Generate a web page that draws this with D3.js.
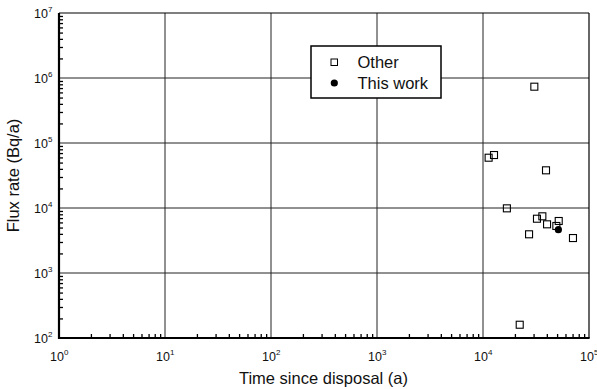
<!DOCTYPE html>
<html>
<head>
<meta charset="utf-8">
<script src="https://cdn.jsdelivr.net/npm/d3@7"></script>
<style>
  html, body { margin: 0; padding: 0; background: #fff; }
  svg { display: block; font-family: "Liberation Sans", Arial, sans-serif; }
</style>
</head>
<body>
<svg id="chart" width="597" height="389"></svg>
<script>
// Time since disposal (a) and flux rate (Bq/a)
const otherTime = [30500, 12700, 11300, 39300, 16800, 36300, 32300, 40200, 51800, 49200, 27200, 70600, 22200];
const otherFlux = [735000, 65300, 59400, 38000, 9880, 7450, 6840, 5610, 6310, 5290, 3940, 3450, 160];
const thisTime = [51400];
const thisFlux = [4640];

const xTickExps = [0, 1, 2, 3, 4, 5];
const yTickExps = [2, 3, 4, 5, 6, 7];
const legendLabels = ["Other", "This work"];

const svg = d3.select("#chart");
const m = { left: 59, right: 589, top: 13, bottom: 338 };

const x = d3.scaleLog().domain([1, 1e5]).range([m.left, m.right]);
const y = d3.scaleLog().domain([1e2, 1e7]).range([m.bottom, m.top]);

// grid lines at each decade
const g = svg.append("g");
g.selectAll(".vgrid").data(xTickExps.slice(1, -1)).enter().append("line")
  .attr("x1", d => x(Math.pow(10, d))).attr("x2", d => x(Math.pow(10, d)))
  .attr("y1", m.top).attr("y2", m.bottom)
  .attr("stroke", "#222").attr("stroke-width", 1);
g.selectAll(".hgrid").data(yTickExps.slice(1, -1)).enter().append("line")
  .attr("x1", m.left).attr("x2", m.right)
  .attr("y1", d => y(Math.pow(10, d))).attr("y2", d => y(Math.pow(10, d)))
  .attr("stroke", "#222").attr("stroke-width", 1);

// minor ticks (inward) on the bottom and left axes
const minorX = [];
for (let e = 0; e < 5; e++) for (let k = 2; k <= 9; k++) minorX.push(k * Math.pow(10, e));
const minorY = [];
for (let e = 2; e < 7; e++) for (let k = 2; k <= 9; k++) minorY.push(k * Math.pow(10, e));

const xAxis = d3.axisBottom(x).tickValues(minorX).tickSize(-4).tickFormat("");
const yAxis = d3.axisLeft(y).tickValues(minorY).tickSize(-4).tickFormat("");
svg.append("g").attr("transform", `translate(0,${m.bottom})`).call(xAxis)
  .call(s => s.select(".domain").remove())
  .selectAll("line").attr("stroke", "#000").attr("stroke-width", 1.3);
svg.append("g").attr("transform", `translate(${m.left},0)`).call(yAxis)
  .call(s => s.select(".domain").remove())
  .selectAll("line").attr("stroke", "#000").attr("stroke-width", 1.3);

// frame: thin top/right, heavy bottom/left
svg.append("line").attr("x1", m.left).attr("x2", m.right).attr("y1", m.top).attr("y2", m.top)
  .attr("stroke", "#000").attr("stroke-width", 1.2);
svg.append("line").attr("x1", m.right).attr("x2", m.right).attr("y1", m.top).attr("y2", m.bottom)
  .attr("stroke", "#000").attr("stroke-width", 1.2);
svg.append("line").attr("x1", m.left - 1).attr("x2", m.right + 0.6).attr("y1", m.bottom).attr("y2", m.bottom)
  .attr("stroke", "#000").attr("stroke-width", 2.2);
svg.append("line").attr("x1", m.left).attr("x2", m.left).attr("y1", m.top).attr("y2", m.bottom + 1)
  .attr("stroke", "#000").attr("stroke-width", 2.2);

// decade tick labels as 10 with superscript exponent
function powerLabel(sel) {
  sel.append("tspan").text("10");
  sel.append("tspan").attr("font-size", 8).attr("dy", -6).text(d => d);
}
svg.selectAll(".xlab").data(xTickExps).enter().append("text")
  .attr("x", d => x(Math.pow(10, d)) - 9).attr("y", m.bottom + 23)
  .attr("font-size", 12.5).attr("fill", "#111")
  .call(powerLabel);
svg.selectAll(".ylab").data(yTickExps).enter().append("text")
  .attr("x", 34).attr("y", d => y(Math.pow(10, d)) + 5)
  .attr("font-size", 12.5).attr("fill", "#111")
  .call(powerLabel);

// axis titles
svg.append("text").attr("x", (m.left + m.right) / 2 - 0.5).attr("y", 384)
  .attr("text-anchor", "middle").attr("font-size", 16.5).attr("fill", "#111")
  .text("Time since disposal (a)");
svg.append("text").attr("transform", `translate(19,${(m.top + m.bottom) / 2}) rotate(-90)`)
  .attr("text-anchor", "middle").attr("font-size", 16.5).attr("fill", "#111")
  .text("Flux rate (Bq/a)");

// data points
const sq = 7;
svg.append("g").selectAll("rect").data(otherTime.map((t, i) => [t, otherFlux[i]])).enter().append("rect")
  .attr("x", d => x(d[0]) - sq / 2).attr("y", d => y(d[1]) - sq / 2)
  .attr("width", sq).attr("height", sq)
  .attr("fill", "none").attr("stroke", "#000").attr("stroke-width", 1.1);
svg.append("g").selectAll("circle").data(thisTime.map((t, i) => [t, thisFlux[i]])).enter().append("circle")
  .attr("cx", d => x(d[0])).attr("cy", d => y(d[1])).attr("r", 3.6)
  .attr("fill", "#000");

// legend
const lg = svg.append("g");
lg.append("rect").attr("x", 311).attr("y", 46).attr("width", 130).attr("height", 52)
  .attr("fill", "#fff").attr("stroke", "#000").attr("stroke-width", 1.5);
lg.append("rect").attr("x", 331).attr("y", 59).attr("width", 6.5).attr("height", 6.5)
  .attr("fill", "none").attr("stroke", "#000").attr("stroke-width", 1);
lg.append("circle").attr("cx", 334.3).attr("cy", 83).attr("r", 3.6).attr("fill", "#000");
lg.append("text").attr("x", 357.5).attr("y", 67.5).attr("font-size", 16.5).attr("fill", "#111").text(legendLabels[0]);
lg.append("text").attr("x", 357.5).attr("y", 89).attr("font-size", 16.5).attr("fill", "#111").text(legendLabels[1]);
</script>
</body>
</html>
